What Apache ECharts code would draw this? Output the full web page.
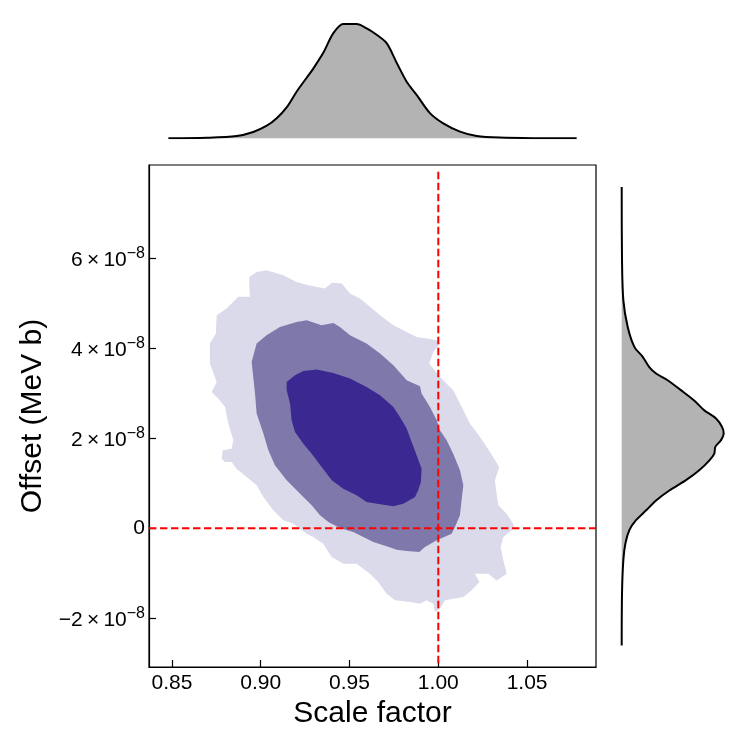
<!DOCTYPE html>
<html>
<head>
<meta charset="utf-8">
<script src="https://cdn.jsdelivr.net/npm/echarts@6/dist/echarts.min.js"></script>
<style>
  html, body { margin: 0; padding: 0; background: #fff; }
  #chart { width: 747px; height: 747px; }
</style>
</head>
<body>
<div id="chart"></div>
<script>
// axis ranges (offset is in units of 1e-8 MeV b)
const scaleRange = [0.8371, 1.0888];
const offsetRange = [-3.08, 8.07];
const scaleTicks = [0.85, 0.90, 0.95, 1.00, 1.05];
const offsetTicks = [-2, 0, 2, 4, 6];
const refScale = 1.0;
const refOffset = 0;

// credible region outlines, [scale, offset]
const contourOuter = [
  [0.8936, 5.585], [0.8977, 5.696], [0.9033, 5.733], [0.9127, 5.622], [0.9202, 5.474],
  [0.9268, 5.400], [0.9362, 5.326], [0.9400, 5.452], [0.9456, 5.437], [0.9503, 5.215],
  [0.9559, 5.104], [0.9615, 4.919], [0.9672, 4.733], [0.9747, 4.511], [0.9822, 4.363],
  [0.9878, 4.252], [0.9934, 4.215], [0.9991, 4.178], [1.0009, 4.104], [0.9972, 3.919],
  [0.9949, 3.659], [1.0009, 3.363], [1.0084, 3.067], [1.0122, 2.770], [1.0178, 2.326],
  [1.0235, 2.030], [1.0291, 1.696], [1.0343, 1.363], [1.0319, 1.067], [1.0328, 0.770],
  [1.0338, 0.511], [1.0385, 0.326], [1.0426, 0.067], [1.0413, -0.044], [1.0366, -0.193],
  [1.0351, -0.415], [1.0366, -0.711], [1.0385, -1.007], [1.0328, -1.156], [1.0282, -1.007],
  [1.0206, -1.007], [1.0231, -1.193], [1.0188, -1.378], [1.0141, -1.526], [1.0038, -1.600],
  [1.0009, -1.785], [0.9981, -1.859], [0.9972, -1.674], [0.9934, -1.600], [0.9897, -1.674],
  [0.9840, -1.637], [0.9756, -1.600], [0.9709, -1.452], [0.9662, -1.193], [0.9615, -1.007],
  [0.9540, -0.785], [0.9465, -0.785], [0.9400, -0.637], [0.9352, -0.341], [0.9296, -0.193],
  [0.9259, -0.119], [0.9184, 0.104], [0.9127, 0.178], [0.9071, 0.400], [0.9015, 0.696],
  [0.8977, 0.956], [0.8921, 1.141], [0.8864, 1.326], [0.8836, 1.474], [0.8799, 1.474],
  [0.8780, 1.548], [0.8786, 1.733], [0.8836, 1.770], [0.8846, 1.956], [0.8818, 2.326],
  [0.8799, 2.696], [0.8761, 2.881], [0.8724, 3.030], [0.8752, 3.252], [0.8714, 3.659],
  [0.8714, 4.104], [0.8748, 4.326], [0.8752, 4.733], [0.8808, 4.881], [0.8874, 5.141],
  [0.8940, 5.141], [0.8936, 5.363]
];
const contourMiddle = [
  [0.8977, 4.104], [0.9033, 4.289], [0.9108, 4.474], [0.9202, 4.585], [0.9259, 4.622],
  [0.9343, 4.511], [0.9409, 4.563], [0.9446, 4.474], [0.9503, 4.289], [0.9596, 4.104],
  [0.9672, 3.881], [0.9747, 3.622], [0.9822, 3.289], [0.9897, 3.156], [0.9906, 2.993],
  [0.9953, 2.696], [0.9991, 2.400], [1.0009, 2.178], [1.0047, 1.956], [1.0084, 1.659],
  [1.0122, 1.289], [1.0141, 0.956], [1.0131, 0.622], [1.0122, 0.289], [1.0094, 0.030],
  [1.0075, -0.119], [0.9991, -0.267], [0.9925, -0.415], [0.9893, -0.526], [0.9822, -0.504],
  [0.9765, -0.474], [0.9709, -0.400], [0.9634, -0.304], [0.9578, -0.193], [0.9521, -0.081],
  [0.9446, 0.007], [0.9381, 0.141], [0.9334, 0.289], [0.9287, 0.511], [0.9240, 0.696],
  [0.9184, 0.919], [0.9146, 1.067], [0.9080, 1.400], [0.9043, 1.733], [0.9015, 2.104],
  [0.8977, 2.548], [0.8968, 2.993], [0.8958, 3.363], [0.8949, 3.696]
];
const contourInner = [
  [0.9146, 3.252], [0.9193, 3.400], [0.9240, 3.496], [0.9315, 3.526], [0.9409, 3.452],
  [0.9503, 3.326], [0.9596, 3.141], [0.9672, 2.956], [0.9747, 2.696], [0.9784, 2.474],
  [0.9822, 2.215], [0.9850, 1.919], [0.9878, 1.622], [0.9906, 1.326], [0.9902, 1.030],
  [0.9887, 0.844], [0.9869, 0.696], [0.9803, 0.548], [0.9747, 0.489], [0.9672, 0.533],
  [0.9596, 0.585], [0.9540, 0.733], [0.9465, 0.881], [0.9400, 1.067], [0.9343, 1.363],
  [0.9287, 1.659], [0.9240, 1.881], [0.9193, 2.141], [0.9174, 2.400], [0.9165, 2.770],
  [0.9146, 3.067]
];

// marginal densities (peak normalised to 1)
const topScale = [0.848, 0.8696, 0.8865, 0.8958, 0.9034, 0.909, 0.9146, 0.9203, 0.9259, 0.9296,
  0.9353, 0.9409, 0.9465, 0.954, 0.9597, 0.9653, 0.971, 0.9766, 0.9822, 0.9878,
  0.9953, 1.0028, 1.0122, 1.0216, 1.0347, 1.0573, 1.0779];
const topDensity = [0, 0.005, 0.02, 0.055, 0.11, 0.175, 0.27, 0.41, 0.53, 0.61,
  0.75, 0.92, 1.0, 1.0, 0.962, 0.906, 0.83, 0.66, 0.495, 0.38,
  0.22, 0.13, 0.058, 0.02, 0.006, 0.001, 0];
const sideOffset = [7.58, 5.96, 5.07, 4.47, 4.03, 3.81, 3.58, 3.44, 3.29, 3.07,
  2.84, 2.62, 2.44, 2.25, 2.10, 1.96, 1.81, 1.66, 1.51, 1.29,
  1.07, 0.84, 0.62, 0.40, 0.18, -0.04, -0.34, -0.71, -1.45, -2.6];
const sideDensity = [0, 0.003, 0.016, 0.059, 0.124, 0.206, 0.27, 0.337, 0.45, 0.58,
  0.71, 0.81, 0.925, 0.984, 1.0, 0.974, 0.918, 0.908, 0.86, 0.76,
  0.63, 0.467, 0.337, 0.24, 0.14, 0.075, 0.036, 0.016, 0.003, 0];

const font = '"Liberation Sans", Arial, sans-serif';
const chart = echarts.init(document.getElementById('chart'));

// draws one filled region from its outline, through the main axes
function regionSeries(points, color) {
  return {
    type: 'custom',
    xAxisIndex: 0,
    yAxisIndex: 0,
    silent: true,
    data: points,
    renderItem: (params, api) => {
      if (params.dataIndex !== 0) return null;
      return {
        type: 'polygon',
        shape: { points: points.map(p => api.coord(p)) },
        style: { fill: color }
      };
    }
  };
}

const refLine = { color: '#ff0000', width: 2, type: [7.4, 3.6] };

const options = {
  animation: false,
  backgroundColor: '#fff',
  grid: [
    { left: 149, right: 151, top: 165, bottom: 80, show: true, borderColor: '#000', borderWidth: 1.2 },
    { left: 149, right: 151, top: 24, bottom: 608.7 },
    { left: 621.7, right: 23.3, top: 165, bottom: 80 }
  ],
  xAxis: [
    {
      type: 'value', gridIndex: 0, min: scaleRange[0], max: scaleRange[1],
      name: 'Scale factor', nameLocation: 'middle', nameGap: 24,
      nameTextStyle: { fontSize: 30, color: '#000', fontFamily: font },
      axisLine: { show: true, onZero: false, lineStyle: { color: '#000', width: 1.2 } },
      axisTick: { show: true, inside: true, length: 7, customValues: scaleTicks, lineStyle: { color: '#000', width: 1.2 } },
      axisLabel: { customValues: scaleTicks, formatter: v => v.toFixed(2), fontSize: 21, color: '#000', fontFamily: font, margin: 6 },
      splitLine: { show: false }
    },
    { type: 'value', gridIndex: 1, min: scaleRange[0], max: scaleRange[1], show: false },
    { type: 'value', gridIndex: 2, min: 0, max: 1, show: false }
  ],
  yAxis: [
    {
      type: 'value', gridIndex: 0, min: offsetRange[0], max: offsetRange[1],
      name: 'Offset (MeV b)', nameLocation: 'middle', nameGap: 98,
      nameTextStyle: { fontSize: 30, color: '#000', fontFamily: font },
      axisLine: { show: true, onZero: false, lineStyle: { color: '#000', width: 1.2 } },
      axisTick: { show: true, inside: true, length: 7, customValues: offsetTicks, lineStyle: { color: '#000', width: 1.2 } },
      axisLabel: {
        customValues: offsetTicks,
        margin: 4,
        formatter: v => {
          if (Math.abs(v) < 1e-9) return '{z|0}';
          const m = (v < 0 ? '\u2212' : '') + Math.abs(v);
          return '{m|' + m + '\u2009\u00d7\u200910}{e|\u22128}';
        },
        rich: {
          z: { fontSize: 21, color: '#000', fontFamily: font },
          m: { fontSize: 21, color: '#000', fontFamily: font, lineHeight: 25, verticalAlign: 'bottom' },
          e: { fontSize: 16, color: '#000', fontFamily: font, lineHeight: 14, verticalAlign: 'top', padding: [0, 0, 17, 0] }
        }
      },
      splitLine: { show: false }
    },
    { type: 'value', gridIndex: 1, min: 0, max: 1, show: false },
    { type: 'value', gridIndex: 2, min: offsetRange[0], max: offsetRange[1], show: false }
  ],
  series: [
    regionSeries(contourOuter, '#dadaeb'),
    regionSeries(contourMiddle, '#7f79ab'),
    regionSeries(contourInner, '#3c2891'),
    {
      type: 'line', xAxisIndex: 0, yAxisIndex: 0, symbol: 'none', silent: true, z: 10,
      data: [[refScale, offsetRange[1] - 0.15], [refScale, offsetRange[0]]],
      lineStyle: refLine
    },
    {
      type: 'line', xAxisIndex: 0, yAxisIndex: 0, symbol: 'none', silent: true, z: 10,
      data: [[scaleRange[0], refOffset], [scaleRange[1], refOffset]],
      lineStyle: refLine
    },
    // marginal for the scale factor
    {
      type: 'line', xAxisIndex: 1, yAxisIndex: 1, symbol: 'none', silent: true,
      smooth: 0.3,
      data: topScale.map((x, i) => [x, topDensity[i]]),
      lineStyle: { color: '#000', width: 2 },
      areaStyle: { color: '#b3b3b3', opacity: 1 }
    },
    // marginal for the offset, drawn sideways
    {
      type: 'custom', xAxisIndex: 2, yAxisIndex: 2, silent: true,
      data: sideOffset.map((y, i) => [sideDensity[i], y]),
      renderItem: (params, api) => {
        if (params.dataIndex !== 0) return null;
        const pts = sideOffset.map((y, i) => api.coord([sideDensity[i], y]));
        const base = [api.coord([0, sideOffset[sideOffset.length - 1]]), api.coord([0, sideOffset[0]])];
        return {
          type: 'group',
          children: [
            { type: 'polygon', shape: { points: pts.concat(base) }, style: { fill: '#b3b3b3' } },
            { type: 'polyline', shape: { points: pts, smooth: 0.3 }, style: { stroke: '#000', lineWidth: 2, fill: null } }
          ]
        };
      }
    }
  ]
};

chart.setOption(options);
</script>
</body>
</html>
